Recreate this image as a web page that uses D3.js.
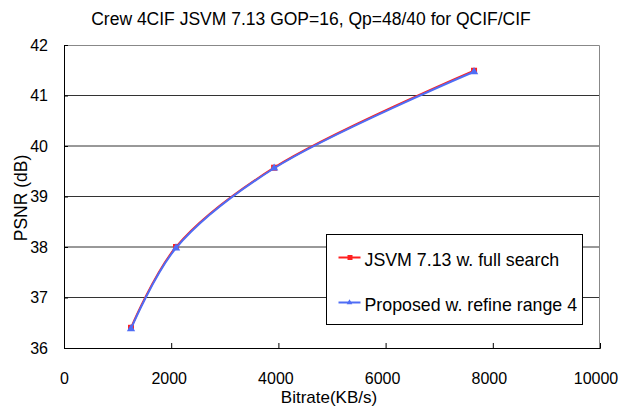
<!DOCTYPE html>
<html>
<head>
<meta charset="utf-8">
<script src="https://cdn.jsdelivr.net/npm/d3@7"></script>
<style>
  body { margin: 0; background: #fff; }
  text { font-family: "Liberation Sans", Arial, sans-serif; fill: #000; }
</style>
</head>
<body>
<div id="chart"></div>
<script>
const bitrate = [1250, 2090, 3920, 7650];
const psnrFull = [36.40, 38.00, 39.57, 41.49];
const psnrRefine = [36.38, 37.98, 39.56, 41.47];
const seriesNames = ["JSVM 7.13 w. full search", "Proposed w. refine range 4"];
const xTicks = [0, 2000, 4000, 6000, 8000, 10000];
const yTicks = [36, 37, 38, 39, 40, 41, 42];

const W = 621, H = 409;
const margin = { top: 45, right: 21, bottom: 61, left: 64 };
const width = W - margin.left - margin.right;
const height = H - margin.top - margin.bottom;

const svg = d3.select("#chart").append("svg")
  .attr("width", W).attr("height", H);

svg.append("text")
  .attr("x", 311).attr("y", 25)
  .attr("text-anchor", "middle")
  .style("font-size", "17.5px")
  .text("Crew 4CIF JSVM 7.13 GOP=16, Qp=48/40 for QCIF/CIF");

const g = svg.append("g")
  .attr("transform", "translate(" + margin.left + "," + margin.top + ")");

const X = d3.scaleLinear().domain([0, 10000]).range([0, width]);
const Y = d3.scaleLinear().domain([36, 42]).range([height, 0]);

// gridlines
g.append("g").selectAll("line")
  .data(yTicks.filter(d => d > 36 && d < 42))
  .join("line")
  .attr("x1", 0).attr("x2", width)
  .attr("y1", d => Y(d)).attr("y2", d => Y(d))
  .attr("stroke", "#333").attr("stroke-width", 1);

// plot border (top, right)
g.append("path")
  .attr("d", `M0,0.5H${width - 0.5}V${height}`)
  .attr("fill", "none").attr("stroke", "#888").attr("stroke-width", 1);

// axes
const xAxis = g.append("g")
  .attr("transform", `translate(0,${height})`)
  .call(d3.axisBottom(X).tickValues(xTicks).tickSize(-5).tickPadding(25).tickFormat(d3.format("d")));
const yAxis = g.append("g")
  .call(d3.axisLeft(Y).tickValues(yTicks).tickSize(-4).tickPadding(16).tickFormat(d3.format("d")));
[xAxis, yAxis].forEach(a => {
  a.select(".domain").attr("stroke", "#000");
  a.selectAll(".tick line").attr("stroke", "#000");
  a.selectAll("text").style("font-size", "16px")
    .style("font-family", "'Liberation Sans', Arial, sans-serif");
});
xAxis.selectAll("text").attr("dx", (d, i) => i === 0 ? 0 : -2 - i * 0.5);

svg.append("text")
  .attr("x", 329).attr("y", 403)
  .attr("text-anchor", "middle")
  .style("font-size", "17px")
  .text("Bitrate(KB/s)");

svg.append("text")
  .attr("transform", "translate(27,198) rotate(-90)")
  .attr("text-anchor", "middle")
  .style("font-size", "17.5px")
  .text("PSNR (dB)");

const line = d3.line().curve(d3.curveCatmullRom.alpha(0.5))
  .x(d => X(d[0])).y(d => Y(d[1]));

const full = bitrate.map((b, i) => [b, psnrFull[i]]);
const refine = bitrate.map((b, i) => [b, psnrRefine[i]]);
const red = "#ff2020", blue = "#4f6df5";

g.append("path").datum(full).attr("d", line)
  .attr("fill", "none").attr("stroke", red).attr("stroke-width", 2);
g.append("g").selectAll("rect").data(full).join("rect")
  .attr("x", d => X(d[0]) - 3).attr("y", d => Y(d[1]) - 3)
  .attr("width", 6).attr("height", 6).attr("fill", red);

g.append("path").datum(refine).attr("d", line)
  .attr("fill", "none").attr("stroke", blue).attr("stroke-width", 2);
const tri = d3.symbol().type(d3.symbolTriangle).size(30);
g.append("g").selectAll("path").data(refine).join("path")
  .attr("transform", d => `translate(${X(d[0])},${Y(d[1])})`)
  .attr("d", tri).attr("fill", blue);

// legend
const lg = svg.append("g").attr("transform", "translate(326.5,234.5)");
lg.append("rect").attr("width", 256).attr("height", 90)
  .attr("fill", "#fff").attr("stroke", "#000").attr("stroke-width", 1);
[[red, "rect"], [blue, "tri"]].forEach(([c, m], i) => {
  const yy = 23 + i * 45;
  lg.append("line").attr("x1", 12).attr("x2", 34).attr("y1", yy).attr("y2", yy)
    .attr("stroke", c).attr("stroke-width", 2);
  if (m === "rect") {
    lg.append("rect").attr("x", 21).attr("y", yy - 2.5).attr("width", 5).attr("height", 5).attr("fill", c);
  } else {
    lg.append("path").attr("transform", `translate(23,${yy})`)
      .attr("d", d3.symbol().type(d3.symbolTriangle).size(14)).attr("fill", c);
  }
  lg.append("text").attr("x", 38).attr("y", yy + 8)
    .style("font-size", "17.8px").text(seriesNames[i]);
});
</script>
</body>
</html>
